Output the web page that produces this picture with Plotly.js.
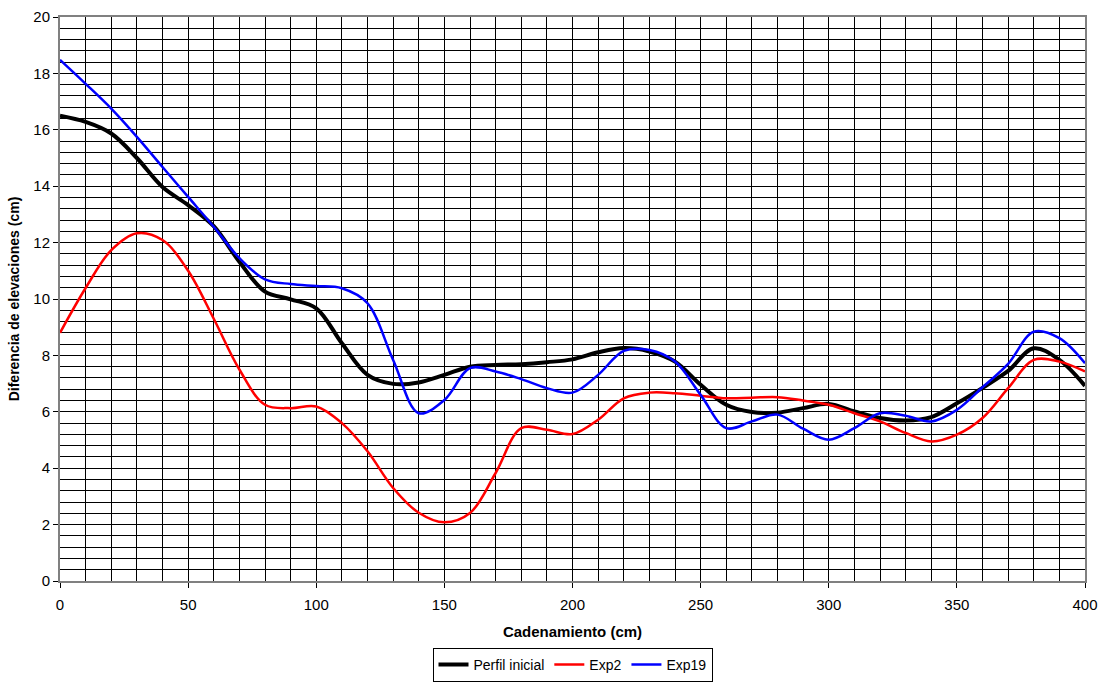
<!DOCTYPE html>
<html>
<head>
<meta charset="utf-8">
<script src="https://cdn.plot.ly/plotly-3.0.1.min.js"></script>
<style>html,body{margin:0;padding:0;background:#fff;}#chart{width:1103px;height:682px;}</style>
</head>
<body>
<div id="chart"></div>
<script>
const cadenamiento = [0,10,20,30,40,50,60,70,80,90,100,110,120,130,140,150,160,170,180,190,200,210,220,230,240,250,260,270,280,290,300,310,320,330,340,350,360,370,380,390,400];
const perfilInicial = [16.5,16.28,15.87,15.0,13.97,13.33,12.58,11.32,10.26,9.99,9.67,8.43,7.31,6.99,7.04,7.31,7.6,7.66,7.69,7.76,7.86,8.11,8.26,8.14,7.78,6.96,6.25,5.99,5.97,6.13,6.28,6.01,5.78,5.69,5.81,6.3,6.85,7.45,8.25,7.84,6.92];
const exp2 = [8.8,10.39,11.73,12.33,12.09,11.0,9.3,7.5,6.25,6.13,6.19,5.6,4.6,3.3,2.42,2.08,2.41,3.83,5.42,5.36,5.21,5.72,6.48,6.68,6.66,6.57,6.48,6.5,6.52,6.4,6.25,5.95,5.66,5.25,4.95,5.19,5.78,6.84,7.84,7.78,7.43];
const exp19 = [18.48,17.63,16.75,15.75,14.68,13.62,12.56,11.45,10.7,10.53,10.46,10.38,9.85,7.84,5.95,6.42,7.55,7.43,7.16,6.84,6.68,7.31,8.16,8.19,7.78,6.6,5.42,5.66,5.9,5.4,5.01,5.42,5.95,5.86,5.66,6.07,6.87,7.7,8.84,8.61,7.72];
const seriesNames = ['Perfil inicial','Exp2','Exp19'];

const font = 'Liberation Sans, Arial, sans-serif';
const traces = [
  {x: cadenamiento, y: perfilInicial, name: seriesNames[0], mode: 'lines', line: {color: '#000000', width: 4, shape: 'spline', smoothing: 1}},
  {x: cadenamiento, y: exp2, name: seriesNames[1], mode: 'lines', line: {color: '#ff0000', width: 2.5, shape: 'spline', smoothing: 1}},
  {x: cadenamiento, y: exp19, name: seriesNames[2], mode: 'lines', line: {color: '#0000ff', width: 2.5, shape: 'spline', smoothing: 1}}
];
const layout = {
  width: 1103, height: 682,
  margin: {l: 60, r: 18, t: 16.5, b: 100.5, autoexpand: false},
  paper_bgcolor: '#ffffff', plot_bgcolor: '#ffffff',
  font: {family: font, size: 15, color: '#000'},
  showlegend: true,
  legend: {orientation: 'h', x: 0.5, xanchor: 'center', y: 0.0, yanchor: 'bottom', yref: 'container',
           bordercolor: '#000', borderwidth: 1, font: {family: font, size: 14, color: '#000'},
           itemwidth: 30, tracegroupgap: 0},
  xaxis: {range: [0, 400], dtick: 50, tick0: 0, showgrid: true, gridcolor: '#000', gridwidth: 1,
          minor: {dtick: 10, showgrid: true, gridcolor: '#000', gridwidth: 1},
          showline: true, linecolor: '#808080', linewidth: 2, mirror: true,
          ticks: 'outside', ticklen: 5, tickcolor: '#000', zeroline: false, automargin: false,
          ticklabelstandoff: 4,
          tickfont: {family: font, size: 15, color: '#000'},
          title: {text: '<b>Cadenamiento (cm)</b>', font: {family: font, size: 15, color: '#000'}, standoff: 14}},
  yaxis: {range: [0, 20], dtick: 2, tick0: 0, showgrid: true, gridcolor: '#000', gridwidth: 1,
          minor: {dtick: 0.4, showgrid: true, gridcolor: '#000', gridwidth: 1},
          showline: true, linecolor: '#808080', linewidth: 2, mirror: true,
          ticks: 'outside', ticklen: 5, tickcolor: '#000', zeroline: false, automargin: false,
          tickfont: {family: font, size: 15, color: '#000'},
          title: {text: '<b>Diferencia de elevaciones (cm)</b>', font: {family: font, size: 14, color: '#000'}, standoff: 10}}
};
Plotly.newPlot('chart', traces, layout, {displayModeBar: false, staticPlot: true});
</script>
</body>
</html>
